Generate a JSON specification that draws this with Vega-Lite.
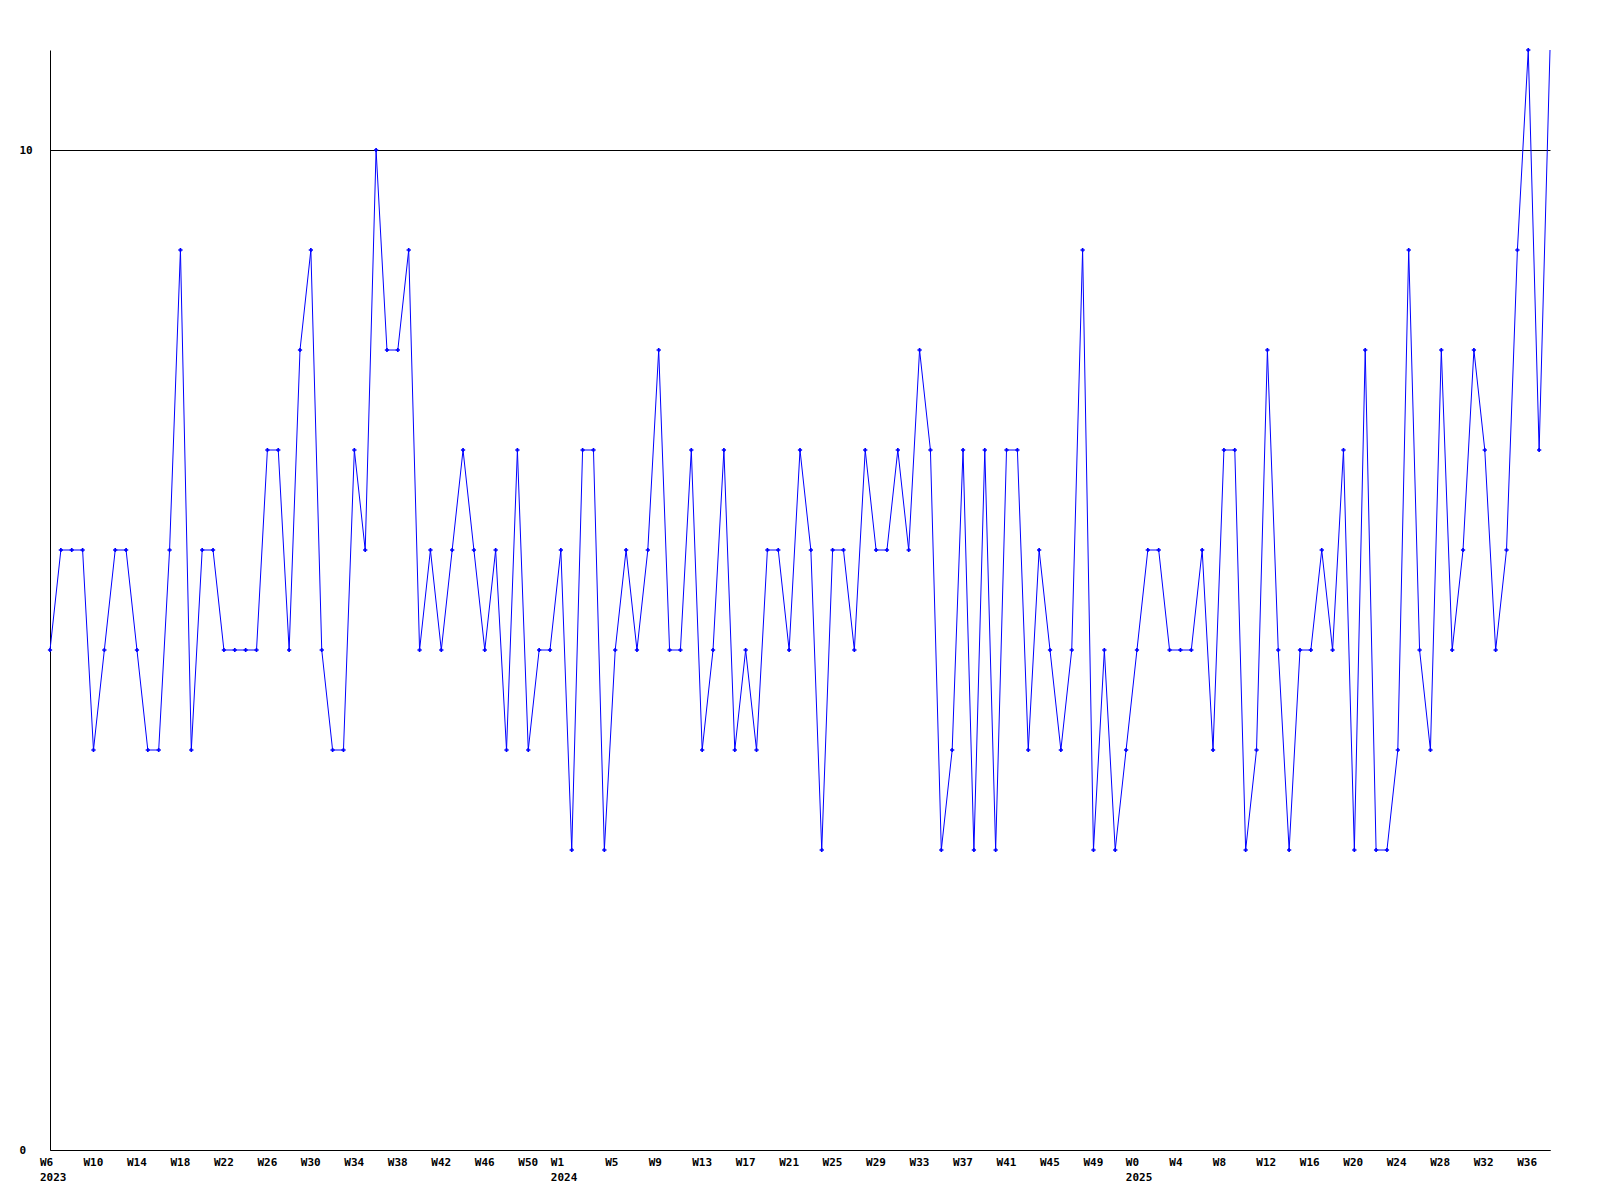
{
  "$schema": "https://vega.github.io/schema/vega-lite/v6.json",
  "width": 1500,
  "height": 1100,
  "padding": {"left": 50, "top": 50, "right": 50, "bottom": 50},
  "autosize": {"type": "none"},
  "background": "white",
  "config": {"view": {"stroke": null}},
  "data": {"values": [
    {"i":1,"v":5},{"i":2,"v":6},{"i":3,"v":6},{"i":4,"v":6},{"i":5,"v":4},{"i":6,"v":5},{"i":7,"v":6},{"i":8,"v":6},{"i":9,"v":5},{"i":10,"v":4},
    {"i":11,"v":4},{"i":12,"v":6},{"i":13,"v":9},{"i":14,"v":4},{"i":15,"v":6},{"i":16,"v":6},{"i":17,"v":5},{"i":18,"v":5},{"i":19,"v":5},{"i":20,"v":5},
    {"i":21,"v":7},{"i":22,"v":7},{"i":23,"v":5},{"i":24,"v":8},{"i":25,"v":9},{"i":26,"v":5},{"i":27,"v":4},{"i":28,"v":4},{"i":29,"v":7},{"i":30,"v":6},
    {"i":31,"v":10},{"i":32,"v":8},{"i":33,"v":8},{"i":34,"v":9},{"i":35,"v":5},{"i":36,"v":6},{"i":37,"v":5},{"i":38,"v":6},{"i":39,"v":7},{"i":40,"v":6},
    {"i":41,"v":5},{"i":42,"v":6},{"i":43,"v":4},{"i":44,"v":7},{"i":45,"v":4},{"i":46,"v":5},{"i":47,"v":5},{"i":48,"v":6},{"i":49,"v":3},{"i":50,"v":7},
    {"i":51,"v":7},{"i":52,"v":3},{"i":53,"v":5},{"i":54,"v":6},{"i":55,"v":5},{"i":56,"v":6},{"i":57,"v":8},{"i":58,"v":5},{"i":59,"v":5},{"i":60,"v":7},
    {"i":61,"v":4},{"i":62,"v":5},{"i":63,"v":7},{"i":64,"v":4},{"i":65,"v":5},{"i":66,"v":4},{"i":67,"v":6},{"i":68,"v":6},{"i":69,"v":5},{"i":70,"v":7},
    {"i":71,"v":6},{"i":72,"v":3},{"i":73,"v":6},{"i":74,"v":6},{"i":75,"v":5},{"i":76,"v":7},{"i":77,"v":6},{"i":78,"v":6},{"i":79,"v":7},{"i":80,"v":6},
    {"i":81,"v":8},{"i":82,"v":7},{"i":83,"v":3},{"i":84,"v":4},{"i":85,"v":7},{"i":86,"v":3},{"i":87,"v":7},{"i":88,"v":3},{"i":89,"v":7},{"i":90,"v":7},
    {"i":91,"v":4},{"i":92,"v":6},{"i":93,"v":5},{"i":94,"v":4},{"i":95,"v":5},{"i":96,"v":9},{"i":97,"v":3},{"i":98,"v":5},{"i":99,"v":3},{"i":100,"v":4},
    {"i":101,"v":5},{"i":102,"v":6},{"i":103,"v":6},{"i":104,"v":5},{"i":105,"v":5},{"i":106,"v":5},{"i":107,"v":6},{"i":108,"v":4},{"i":109,"v":7},{"i":110,"v":7},
    {"i":111,"v":3},{"i":112,"v":4},{"i":113,"v":8},{"i":114,"v":5},{"i":115,"v":3},{"i":116,"v":5},{"i":117,"v":5},{"i":118,"v":6},{"i":119,"v":5},{"i":120,"v":7},
    {"i":121,"v":3},{"i":122,"v":8},{"i":123,"v":3},{"i":124,"v":3},{"i":125,"v":4},{"i":126,"v":9},{"i":127,"v":5},{"i":128,"v":4},{"i":129,"v":8},{"i":130,"v":5},
    {"i":131,"v":6},{"i":132,"v":8},{"i":133,"v":7},{"i":134,"v":5},{"i":135,"v":6},{"i":136,"v":9},{"i":137,"v":11},{"i":138,"v":7},{"i":139,"v":11}
  ]},
  "encoding": {
    "x": {
      "field": "i",
      "type": "quantitative",
      "scale": {"domain": [1, 139], "nice": false, "zero": false},
      "axis": {
        "title": null,
        "values": [1,5,9,13,17,21,25,29,33,37,41,45,48,53,57,61,65,69,73,77,81,85,89,93,97,100.9,104.9,108.9,112.9,116.9,120.9,124.9,128.9,132.9,136.9],
        "labelExpr": "datum.value < 46 ? (datum.value == 1 ? ['W6', '2023'] : 'W' + (datum.value + 5)) : (datum.value < 99 ? (datum.value == 48 ? ['W1', '2024'] : 'W' + (datum.value - 48)) : (datum.value < 101 ? ['W0', '2025'] : 'W' + round(datum.value - 100.9)))",
        "grid": false,
        "ticks": false,
        "tickSize": 0,
        "domainColor": "black",
        "domainWidth": 1,
        "labelAlign": "left",
        "labelBaseline": "top",
        "labelOffset": -10.5,
        "labelPadding": 6,
        "labelFont": "DejaVu Sans Mono",
        "labelFontSize": 11,
        "labelFontWeight": "bold",
        "labelColor": "black",
        "labelFlush": false,
        "labelOverlap": false,
        "labelLineHeight": 15
      }
    },
    "y": {
      "field": "v",
      "type": "quantitative",
      "scale": {"domain": [0, 11], "nice": false, "zero": true},
      "axis": {
        "title": null,
        "values": [0, 10],
        "grid": true,
        "gridColor": "black",
        "gridOpacity": 1,
        "gridWidth": 1,
        "ticks": false,
        "tickSize": 0,
        "domainColor": "black",
        "domainWidth": 1,
        "labelAlign": "left",
        "labelBaseline": "middle",
        "labelPadding": 31,
        "labelFont": "DejaVu Sans Mono",
        "labelFontSize": 11,
        "labelFontWeight": "bold",
        "labelColor": "black",
        "labelFlush": false,
        "labelOverlap": false
      }
    }
  },
  "layer": [
    {"mark": {"type": "line", "color": "#0000ff", "strokeWidth": 1}},
    {
      "transform": [{"filter": "datum.i < 139"}],
      "mark": {"type": "point", "shape": "cross", "filled": true, "color": "#0000ff", "size": 18, "opacity": 1}
    }
  ]
}
